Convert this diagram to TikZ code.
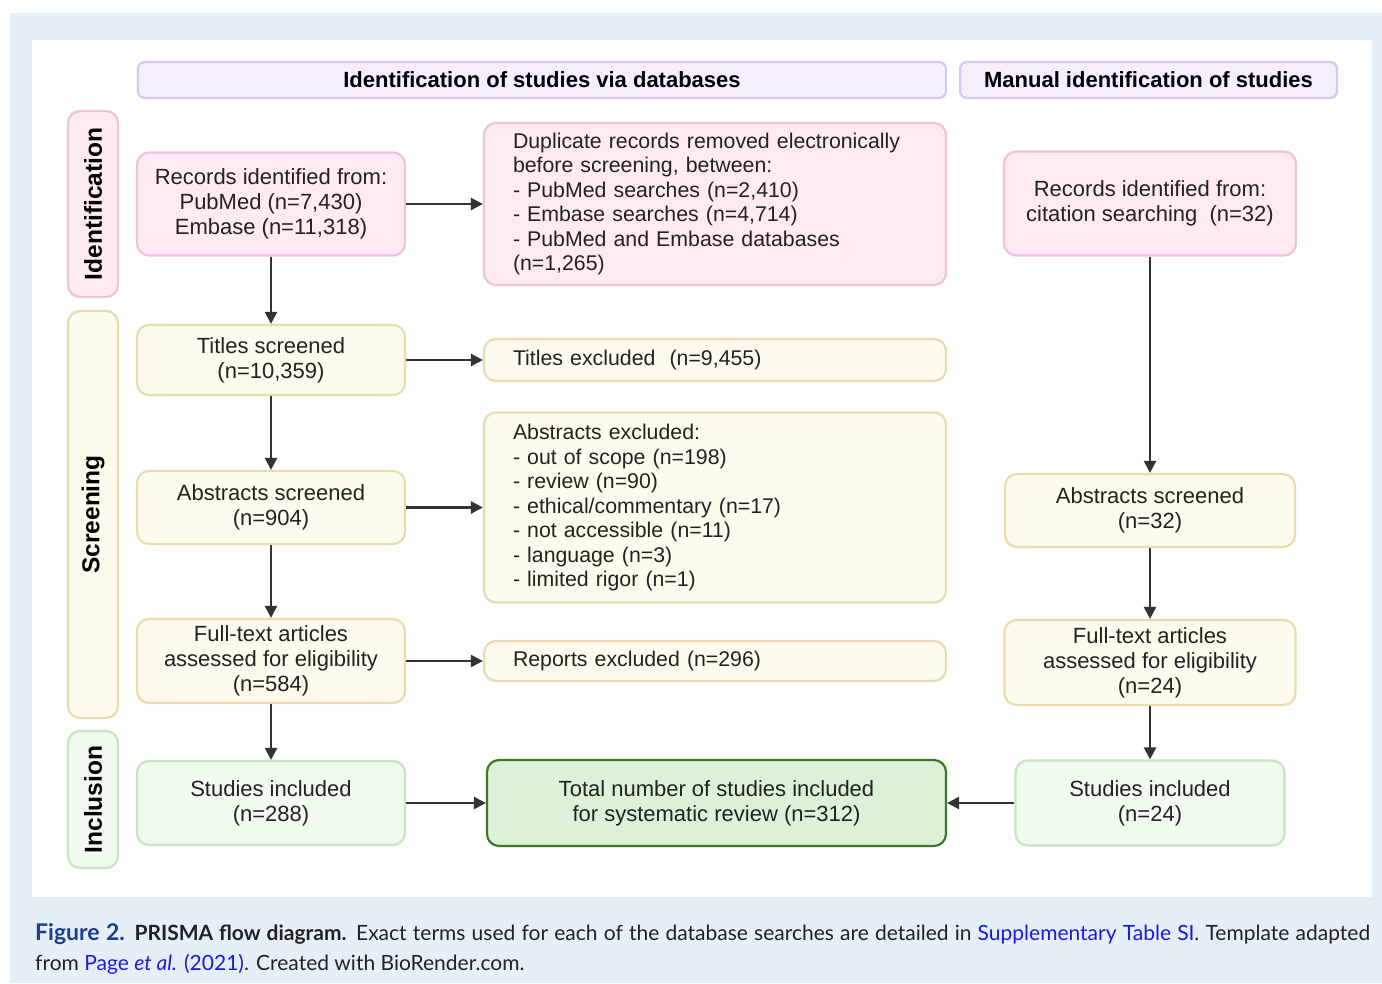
\documentclass[tikz,border=0pt]{standalone}
\usepackage{fontspec}
\setmainfont{Liberation Sans}
\newfontfamily\capfont{Lato}
\usepackage{xcolor}
\usetikzlibrary{arrows.meta,calc}

\definecolor{bgblue}{HTML}{E6EEF8}
\definecolor{txtgray}{HTML}{222222}
\definecolor{arrgray}{HTML}{333333}
\definecolor{pinkfill}{HTML}{FDEAF3}
\definecolor{pinkline}{HTML}{F0C3D7}
\definecolor{creamfill}{HTML}{FDFAEE}
\definecolor{creamline}{HTML}{EBDCAE}
\definecolor{greenfill}{HTML}{F1FAEF}
\definecolor{greenline}{HTML}{C5E6BE}
\definecolor{totfill}{HTML}{DDF1D8}
\definecolor{totline}{HTML}{3B7A28}
\definecolor{lavfill}{HTML}{F4EFFB}
\definecolor{lavline}{HTML}{D6C8EE}
\definecolor{figblue}{HTML}{1B3F8F}
\definecolor{linkblue}{HTML}{1A1AE6}

\tikzset{
  box/.style={draw, rounded corners=12pt, line width=2.2pt, inner sep=0pt,
    align=center, text=txtgray, font=\fontsize{22}{25}\selectfont},
  pinkbox/.style={box, fill=pinkfill, draw=pinkline},
  creambox/.style={box, fill=creamfill, draw=creamline},
  greenbox/.style={box, fill=greenfill, draw=greenline},
  totbox/.style={box, fill=totfill, draw=totline},
  leftbox/.style={align=left, text width=404pt, inner xsep=29pt,
    font=\fontsize{21.3}{24.5}\selectfont},
  header/.style={box, rounded corners=7pt, fill=lavfill, draw=lavline,
    font=\fontsize{22}{25}\selectfont\bfseries, text=black, minimum height=36pt},
  phase/.style={rotate=90, minimum height=50pt,
    font=\fontsize{24.5}{26}\selectfont\bfseries, text=black},
  flow/.style={draw=arrgray, line width=2.4pt, -{Triangle[length=12pt,width=12pt]}}
}

\begin{document}
\begin{tikzpicture}[x=1pt,y=-1pt]
\useasboundingbox (0,0) rectangle (1382,983);
\fill[white] (0,0) rectangle (1382,983);
\fill[bgblue] (10,13) rectangle (1382,983);
\fill[white] (32,40) rectangle (1372,897);

% column headers
\node[header, minimum width=808pt] (hdrdb) at (542,80) {Identification of studies via databases};
\node[header, minimum width=377pt] (hdrman) at (1148.5,80) {Manual identification of studies};

% phases
\node[pinkbox, phase, minimum width=186pt] (phid) at (93,204) {Identification};
\node[creambox, phase, minimum width=407pt] (phscr) at (93,514.5) {Screening};
\node[greenbox, phase, minimum width=137pt] (phinc) at (93,799.5) {Inclusion};

% databases
\node[pinkbox, minimum width=268pt, minimum height=103pt] (rec) at (271,204)
  {Records identified from:\\PubMed (n=7,430)\\Embase (n=11,318)};
\node[pinkbox, leftbox, minimum height=162pt] (dup) at (715,204)
  {Duplicate records removed electronically\\before screening, between:\\- PubMed searches (n=2,410)\\- Embase searches (n=4,714)\\- PubMed and Embase databases\\(n=1,265)};
\node[creambox, minimum width=268pt, minimum height=70pt] (tit) at (271,360)
  {Titles screened\\(n=10,359)};
\node[creambox, leftbox, minimum height=42pt] (titex) at (715,360)
  {Titles excluded\ \ (n=9,455)};
\node[creambox, minimum width=268pt, minimum height=73pt] (abs) at (271,507.5)
  {Abstracts screened\\(n=904)};
\node[creambox, leftbox, minimum height=190pt] (absex) at (715,507.5)
  {Abstracts excluded:\\- out of scope (n=198)\\- review (n=90)\\- ethical/commentary (n=17)\\- not accessible (n=11)\\- language (n=3)\\- limited rigor (n=1)};
\node[creambox, minimum width=268pt, minimum height=84pt] (ful) at (271,661)
  {Full-text articles\\assessed for eligibility\\(n=584)};
\node[creambox, leftbox, minimum height=40pt] (rep) at (715,661)
  {Reports excluded (n=296)};
\node[greenbox, minimum width=268pt, minimum height=84pt] (inc) at (271,803)
  {Studies included\\(n=288)};
\node[totbox, minimum width=459pt, minimum height=86pt] (tot) at (716.5,803)
  {Total number of studies included\\for systematic review (n=312)};

% manual
\node[pinkbox, minimum width=292pt, minimum height=104pt] (cit) at (1150,203.5)
  {Records identified from:\\citation searching\ \ (n=32)};
\node[creambox, minimum width=290pt, minimum height=73pt] (abs2) at (1150,510.5)
  {Abstracts screened\\(n=32)};
\node[creambox, minimum width=291pt, minimum height=85pt] (ful2) at (1150,662.5)
  {Full-text articles\\assessed for eligibility\\(n=24)};
\node[greenbox, minimum width=269pt, minimum height=85pt] (inc2) at (1150,803)
  {Studies included\\(n=24)};

\draw[flow] (rec) -- (dup);
\draw[flow] (rec) -- (tit);
\draw[flow] (tit) -- (titex);
\draw[flow] (tit) -- (abs);
\draw[flow] (abs) -- (absex);
\draw[flow] (abs) -- (ful);
\draw[flow] (ful) -- (rep);
\draw[flow] (ful) -- (inc);
\draw[flow] (inc) -- (tot);
\draw[flow] (cit) -- (abs2);
\draw[flow] (abs2) -- (ful2);
\draw[flow] (ful2) -- (inc2);
\draw[flow] (inc2) -- (tot);

% caption
\node[anchor=base west, inner sep=0pt, font=\capfont\fontsize{21}{30}\selectfont, text=txtgray] (cap1) at (35,940)
  {\makebox[1335pt][s]{\textcolor{figblue}{\fontsize{23}{30}\selectfont\textbf{Figure 2.}} \textbf{PRISMA flow diagram.} Exact terms used for each of the database searches are detailed in \textcolor{linkblue}{Supplementary Table SI}. Template adapted}};
\node[anchor=base west, inner sep=0pt, font=\capfont\fontsize{21}{30}\selectfont, text=txtgray] (cap2) at (35,970)
  {from \textcolor{linkblue}{Page \textit{et al.} (2021)}. Created with BioRender.com.};
\end{tikzpicture}
\end{document}
